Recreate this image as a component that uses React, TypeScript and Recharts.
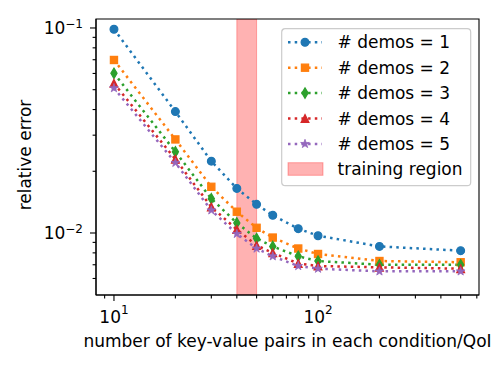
import React from 'react'
import { LineChart, Line, XAxis, YAxis, ReferenceArea, Legend } from 'recharts'

// number of key-value pairs per condition/QoI
const PAIRS = [10, 20, 30, 40, 50, 60, 80, 100, 200, 500]

const DEMOS_1 = [0.0986, 0.0391, 0.0224, 0.0165, 0.0138, 0.0122, 0.0105, 0.0097, 0.0086, 0.0082]
const DEMOS_2 = [0.0698, 0.0286, 0.0168, 0.0127, 0.0106, 0.0095, 0.0084, 0.0079, 0.0073, 0.0072]
const DEMOS_3 = [0.0601, 0.0249, 0.0147, 0.0112, 0.0094, 0.0086, 0.0077, 0.0073, 0.007, 0.007]
const DEMOS_4 = [0.0537, 0.0229, 0.0134, 0.0104, 0.0087, 0.008, 0.0071, 0.0069, 0.0068, 0.0067]
const DEMOS_5 = [0.0509, 0.022, 0.0129, 0.0099, 0.0084, 0.0077, 0.0069, 0.0067, 0.0065, 0.0065]

const TRAINING_REGION = [40, 50]

const X_DOMAIN = [8.165, 615]
const Y_DOMAIN = [0.004984, 0.1106]

const X_TICKS = [9, 10, 20, 30, 40, 50, 60, 70, 80, 90, 100, 200, 300, 400, 500, 600]
const X_MAJOR = [10, 100]
const X_EXP = ['1', '2']

const Y_TICKS = [0.006, 0.007, 0.008, 0.009, 0.01, 0.02, 0.03, 0.04, 0.05, 0.06, 0.07, 0.08, 0.09, 0.1]
const Y_MAJOR = [0.01, 0.1]
const Y_EXP = ['\u22122', '\u22121']

const FONT = '"DejaVu Sans", sans-serif'

type Shape = 'circle' | 'square' | 'diamond' | 'triangle' | 'star'

const SERIES: { key: string; name: string; color: string; shape: Shape; values: number[] }[] = [
  { key: 'd1', name: '# demos = 1', color: '#1f77b4', shape: 'circle', values: DEMOS_1 },
  { key: 'd2', name: '# demos = 2', color: '#ff7f0e', shape: 'square', values: DEMOS_2 },
  { key: 'd3', name: '# demos = 3', color: '#2ca02c', shape: 'diamond', values: DEMOS_3 },
  { key: 'd4', name: '# demos = 4', color: '#d62728', shape: 'triangle', values: DEMOS_4 },
  { key: 'd5', name: '# demos = 5', color: '#9467bd', shape: 'star', values: DEMOS_5 },
]

const data = PAIRS.map((x, i) => {
  const row: Record<string, number> = { x }
  SERIES.forEach(s => { row[s.key] = s.values[i] })
  return row
})

function Marker({ shape, cx, cy, color }: { shape: Shape; cx: number; cy: number; color: string }) {
  const common = { fill: color, stroke: color, strokeWidth: 1.2, strokeLinejoin: 'miter' as const }
  if (shape === 'circle') return <circle cx={cx} cy={cy} r={3.9} {...common} />
  if (shape === 'square') return <rect x={cx - 3.6} y={cy - 3.6} width={7.2} height={7.2} {...common} />
  if (shape === 'diamond')
    return <polygon points={`${cx},${cy - 5.2} ${cx + 3.1},${cy} ${cx},${cy + 5.2} ${cx - 3.1},${cy}`} {...common} />
  if (shape === 'triangle')
    return <polygon points={`${cx},${cy - 3.9} ${cx + 3.9},${cy + 3.9} ${cx - 3.9},${cy + 3.9}`} {...common} />
  const pts: string[] = []
  for (let k = 0; k < 10; k++) {
    const r = k % 2 === 0 ? 4.6 : 1.8
    const a = -Math.PI / 2 + (k * Math.PI) / 5
    pts.push(`${cx + r * Math.cos(a)},${cy + r * Math.sin(a)}`)
  }
  return <polygon points={pts.join(' ')} fill={color} stroke={color} strokeWidth={0.8} />
}

function XTick({ x, y, payload }: any) {
  const i = X_MAJOR.indexOf(payload.value)
  const major = i >= 0
  return (
    <g>
      <line x1={x} x2={x} y1={y} y2={y + (major ? 6 : 3.4)} stroke="#000" strokeWidth={1.1} />
      {major && (
        <text x={x} y={y + 27.5} textAnchor="middle" fontSize={17} fill="#000" fontFamily={FONT}>
          10<tspan dy={-8.5} fontSize={12}>{X_EXP[i]}</tspan>
        </text>
      )}
    </g>
  )
}

function YTick({ x, y, payload }: any) {
  const i = Y_MAJOR.indexOf(payload.value)
  const major = i >= 0
  return (
    <g>
      <line x1={x - (major ? 6 : 3.4)} x2={x} y1={y} y2={y} stroke="#000" strokeWidth={1.1} />
      {major && (
        <text x={x - 13} y={y + 6} textAnchor="end" fontSize={17} fill="#000" fontFamily={FONT}>
          10<tspan dy={-6} fontSize={12}>{Y_EXP[i]}</tspan>
        </text>
      )}
    </g>
  )
}

function LegendBox() {
  return (
    <svg width={192} height={160} style={{ display: 'block', fontFamily: FONT }}>
      <rect x={0.7} y={0.7} width={189} height={157} rx={3.5} fill="#fff" fillOpacity={0.8} stroke="#cccccc" strokeWidth={1.2} />
      {SERIES.map((s, i) => {
        const cy = 14.3 + i * 25.4
        return (
          <g key={s.key}>
            <line x1={7} x2={41} y1={cy} y2={cy} stroke={s.color} strokeWidth={2.5} strokeDasharray="2.5 4.2" />
            <Marker shape={s.shape} cx={24} cy={cy} color={s.color} />
            <text x={56.5} y={cy + 6} fontSize={17} fill="#000">{s.name}</text>
          </g>
        )
      })}
      <rect x={7} y={134.7} width={35} height={12.6} fill="#ff0000" fillOpacity={0.3} stroke="#ff0000" strokeOpacity={0.3} />
      <text x={56.5} y={141.3 + 6} fontSize={17} fill="#000">training region</text>
    </svg>
  )
}

export default function App() {
  return (
    <div style={{ position: 'absolute', left: 0, top: 0, width: 498, height: 374, background: '#fff', fontFamily: FONT }}>
      <LineChart width={498} height={374} data={data} margin={{ top: 19, right: 19, bottom: 0, left: 0 }}>
        <XAxis
          dataKey="x"
          type="number"
          scale="log"
          domain={X_DOMAIN}
          allowDataOverflow
          ticks={X_TICKS}
          interval={0}
          height={79}
          tickSize={0}
          tickMargin={0}
          tickLine={false}
          tick={<XTick />}
          axisLine={{ stroke: '#000', strokeWidth: 1.1 }}
          label={{
            content: ({ viewBox }: any) => (
              <text x={viewBox.x + viewBox.width / 2} y={viewBox.y + 52} textAnchor="middle" fontSize={17} fill="#000" fontFamily={FONT}>
                number of key-value pairs in each condition/QoI
              </text>
            ),
          }}
        />
        <YAxis
          type="number"
          scale="log"
          domain={Y_DOMAIN}
          allowDataOverflow
          ticks={Y_TICKS}
          interval={0}
          width={96}
          tickSize={0}
          tickMargin={0}
          tickLine={false}
          tick={<YTick />}
          axisLine={{ stroke: '#000', strokeWidth: 1.1 }}
          label={{
            content: ({ viewBox }: any) => {
              const cx = viewBox.x + 31
              const cy = viewBox.y + viewBox.height / 2 - 2
              return (
                <text x={cx} y={cy} transform={`rotate(-90 ${cx} ${cy})`} textAnchor="middle" fontSize={17} fill="#000" fontFamily={FONT}>
                  relative error
                </text>
              )
            },
          }}
        />
        <ReferenceArea
          x1={TRAINING_REGION[0]}
          x2={TRAINING_REGION[1]}
          fill="#ff0000"
          fillOpacity={0.3}
          stroke="#ff0000"
          strokeOpacity={0.3}
          ifOverflow="hidden"
        />
        {/* axes frame (top and right spines) */}
        <ReferenceArea
          x1={X_DOMAIN[0]}
          x2={X_DOMAIN[1]}
          y1={Y_DOMAIN[0]}
          y2={Y_DOMAIN[1]}
          fill="none"
          stroke="#000"
          strokeWidth={1.1}
          ifOverflow="visible"
        />
        {SERIES.map(s => (
          <Line
            key={s.key}
            dataKey={s.key}
            name={s.name}
            type="linear"
            stroke={s.color}
            strokeWidth={2.5}
            strokeDasharray="2.5 4.2"
            activeDot={false}
            isAnimationActive={false}
            dot={(p: any) => <Marker key={`${s.key}-${p.index}`} shape={s.shape} cx={p.cx} cy={p.cy} color={s.color} />}
          />
        ))}
        <Legend
          layout="vertical"
          align="center"
          verticalAlign="middle"
          content={<LegendBox />}
          wrapperStyle={{ left: 281, top: 28, width: 192, height: 160 }}
        />
      </LineChart>
    </div>
  )
}
